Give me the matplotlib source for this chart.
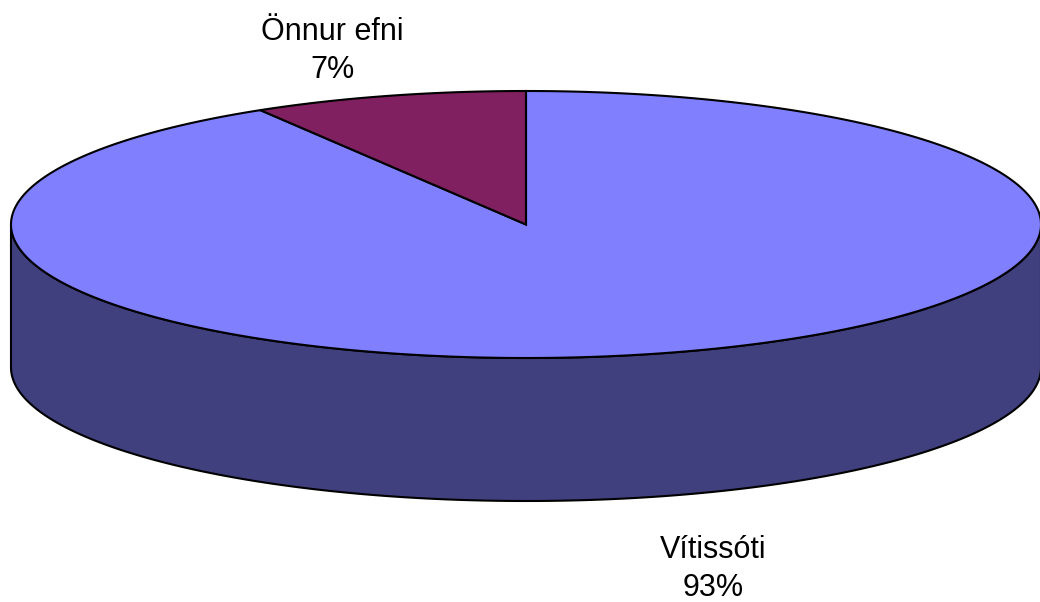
import numpy as np
import matplotlib
matplotlib.use('Agg')
import matplotlib.pyplot as plt
from matplotlib.patches import Polygon

labels = ['Vítissóti', 'Önnur efni']
values = [93, 7]
top_colors = ['#8080FF', '#802060']
side_colors = ['#40407F', '#401030']

plt.rcParams['font.family'] = ['Liberation Sans', 'DejaVu Sans']

W, H = 1040, 602
fig = plt.figure(figsize=(W / 100, H / 100), dpi=100)
ax = fig.add_axes([0, 0, 1, 1])
ax.set_xlim(0, W)
ax.set_ylim(H, 0)
ax.axis('off')

cx, cy = 526, 224.5     # centre of the top ellipse (pixels)
a, b = 515, 133.5       # semi axes
depth = 143             # thickness of the pie
persp = 1.28            # fake perspective: widens angles seen at the back


def warp(t):
    # map true pie angle to the angle drawn on the tilted ellipse
    w = np.arctan2(np.sin(t), persp * np.cos(t))
    return np.unwrap(w) + 2 * np.pi * np.round((t - w) / (2 * np.pi))


def pt(t, dy=0.0):
    return cx + a * np.cos(t), cy - b * np.sin(t) + dy


# slice angles: start at 12 o'clock, go clockwise
fracs = np.array(values, dtype=float) / sum(values)
starts = np.pi / 2 - 2 * np.pi * np.concatenate([[0], np.cumsum(fracs)[:-1]])
ends = starts - 2 * np.pi * fracs

# side wall: only the front half (angles pi..2pi) is visible
for s, e, sc in zip(starts, ends, side_colors):
    lo, hi = min(s, e), max(s, e)
    for k in range(-2, 3):
        l2, h2 = lo + 2 * np.pi * k, hi + 2 * np.pi * k
        l3, h3 = max(l2, np.pi), min(h2, 2 * np.pi)
        if h3 <= l3:
            continue
        t = warp(np.linspace(l3, h3, 300))
        x1, y1 = pt(t)
        x2, y2 = pt(t[::-1], depth)
        poly = np.column_stack([np.concatenate([x1, x2]), np.concatenate([y1, y2])])
        ax.add_patch(Polygon(poly, closed=True, fc=sc, ec='black', lw=1.5, zorder=1))

# top faces
for s, e, tc in zip(starts, ends, top_colors):
    t = warp(np.linspace(s, e, 600))
    x, y = pt(t)
    poly = np.column_stack([np.concatenate([[cx], x]), np.concatenate([[cy], y])])
    ax.add_patch(Polygon(poly, closed=True, fc=tc, ec='black', lw=1.5,
                         joinstyle='miter', zorder=2))

label_pos = [(713, 569), (332, 51)]
for lab, v, (lx, ly) in zip(labels, values, label_pos):
    ax.text(lx, ly, f'{lab}\n{v}%', ha='center', va='center', fontsize=22,
            linespacing=1.35, color='black')

fig.savefig('out.png', dpi=100)
